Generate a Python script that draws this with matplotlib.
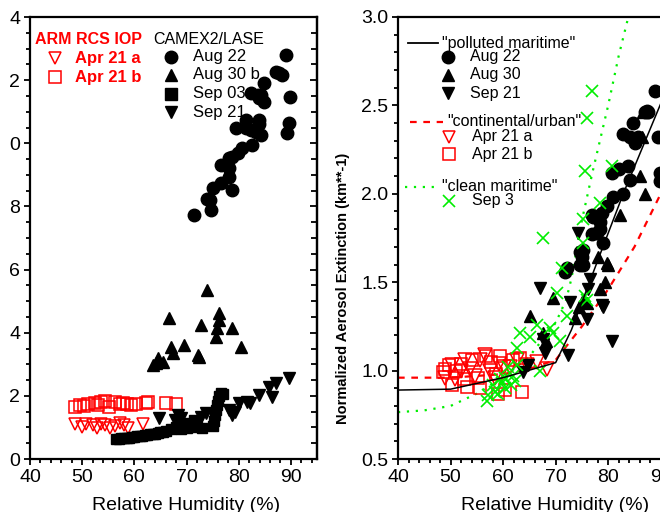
import numpy as np
import matplotlib
matplotlib.use("Agg")
import matplotlib.pyplot as plt
from matplotlib.ticker import MultipleLocator, FixedLocator, FixedFormatter

plt.rcParams['font.family'] = ['Liberation Sans', 'DejaVu Sans']

# ================= left panel: CAMEX2/LASE + ARM RCS IOP =================
aug22_rh = [71.5, 74.4, 74.7, 74.0, 75.0, 76.6, 76.6, 78.2, 78.8, 78.2, 78.2, 78.8,
            79.8, 80.7, 82.6, 79.4, 81.4, 81.4, 82.3, 83.3, 84.2, 83.9, 83.9, 82.3,
            83.6, 84.2, 83.9, 84.8, 84.8, 87.1, 87.7, 88.3, 89.0, 89.9, 89.6, 89.3]
aug22_ext = [7.73, 8.20, 7.89, 8.25, 8.57, 8.73, 9.31, 8.94, 8.52, 9.21, 9.52, 9.58,
             9.68, 9.84, 9.95, 10.47, 10.47, 10.74, 10.42, 10.37, 10.26, 10.74, 10.60, 11.58,
             11.53, 11.53, 11.43, 11.32, 11.90, 12.27, 12.22, 12.16, 12.80, 11.48, 10.63, 10.32]

aug30b_rh = [63.5, 64.2, 64.6, 65.4, 66.7, 67.0, 67.4, 69.6, 72.1, 72.4, 72.8, 74.0,
             75.6, 75.9, 76.3, 76.3, 78.8, 80.4]
aug30b_ext = [2.98, 3.05, 3.20, 3.08, 4.46, 3.56, 3.35, 3.61, 3.29, 3.22, 4.24, 5.35,
              3.87, 4.14, 4.40, 4.61, 4.14, 3.56]

sep03_rh = [56.5, 57.0, 57.5, 58.0, 58.5, 59.0, 59.5, 60.0, 60.5, 61.0, 61.5, 62.0,
            62.5, 63.0, 63.5, 64.0, 64.5, 65.0, 65.5, 66.0, 67.0, 68.0, 68.5, 69.0,
            69.5, 70.0, 70.5, 71.0, 71.5, 72.0, 73.0, 75.0, 75.2, 75.4, 75.6, 75.8,
            76.0, 76.3, 76.6, 77.0]
sep03_ext = [0.62, 0.63, 0.65, 0.66, 0.68, 0.68, 0.70, 0.71, 0.72, 0.73, 0.74, 0.75,
             0.76, 0.78, 0.80, 0.80, 0.82, 0.84, 0.86, 0.90, 0.95, 1.00, 1.10, 0.95,
             1.05, 0.98, 1.15, 1.05, 1.25, 1.00, 0.98, 1.05, 1.20, 1.40, 1.55, 1.70,
             1.85, 2.00, 2.10, 2.05]

sep21_rh = [64.8, 67.7, 68.3, 69.0, 72.8, 73.8, 78.2, 78.8, 79.3, 80.1, 81.6, 82.2,
            83.9, 85.8, 86.4, 87.1, 89.6]
sep21_ext = [1.30, 1.25, 1.39, 1.30, 1.33, 1.45, 1.55, 1.39, 1.50, 1.77, 1.80, 1.78,
             2.03, 2.28, 1.96, 2.40, 2.57]

apr21a_rh = [48.6, 49.9, 50.8, 52.0, 52.8, 53.6, 54.4, 55.3, 56.3, 57.2, 58.0, 58.7, 61.6]
apr21a_ext = [1.12, 1.00, 1.10, 1.08, 0.98, 1.10, 1.08, 0.98, 1.05, 1.14, 1.08, 0.98, 1.12]

apr21b_rh = [48.6, 49.5, 50.3, 51.2, 52.4, 53.1, 53.7, 54.3, 55.2, 56.2, 57.2, 57.8,
             58.5, 59.3, 60.4, 62.3, 62.6, 66.1, 68.0]
apr21b_ext = [1.65, 1.71, 1.68, 1.73, 1.77, 1.70, 1.81, 1.84, 1.65, 1.81, 1.74, 1.78,
              1.74, 1.72, 1.74, 1.77, 1.80, 1.77, 1.74]

# leading "1" of 10/12/14 is cropped off in the source image
left_yticks = [0, 2, 4, 6, 8, 10, 12, 14]
left_yticklabels = ['0', '2', '4', '6', '8', '0', '2', '4']

# ================= right panel: normalized extinction =================
r_aug22_rh = [71.8, 72.2, 74.7, 75.0, 74.7, 75.2, 77.0, 77.0, 78.5, 78.5, 79.1, 77.2,
              77.9, 78.9, 79.8, 80.9, 80.8, 82.9, 83.8, 84.2, 82.9, 84.2, 85.1, 84.8,
              87.0, 87.6, 88.95, 89.5, 89.9, 89.8, 75.2, 82.0, 85.7, 87.4]
r_aug22_ext = [1.56, 1.58, 1.67, 1.64, 1.60, 1.60, 1.88, 1.77, 1.84, 1.80, 1.72, 1.87,
               1.78, 1.89, 1.93, 1.98, 2.12, 2.00, 2.16, 2.08, 2.34, 2.32, 2.29, 2.40,
               2.46, 2.46, 2.58, 2.32, 2.12, 2.07, 1.68, 2.14, 2.32, 2.47]

r_aug30_rh = [65.1, 67.6, 68.2, 69.5, 73.7, 74.5, 75.2, 76.0, 78.1, 78.5, 79.4, 79.8,
              80.0, 82.3, 87.0, 86.1, 86.5, 86.7]
r_aug30_ext = [1.31, 1.21, 1.17, 1.41, 1.30, 1.36, 1.40, 1.38, 1.64, 1.46, 1.50, 1.61,
               1.60, 1.88, 2.00, 2.10, 2.32, 2.46]

r_sep21_rh = [63.8, 64.8, 67.0, 67.6, 68.0, 72.4, 72.8, 74.3, 76.0, 76.2, 76.6, 78.9,
              79.1, 80.8]
r_sep21_ext = [0.99, 1.03, 1.47, 1.18, 1.10, 1.09, 1.39, 1.78, 1.29, 1.46, 1.52, 1.37,
               1.36, 1.17]

r_apr21a_rh = [49.0, 50.2, 50.9, 52.0, 52.8, 53.7, 54.6, 55.6, 56.6, 57.5, 58.4, 59.2,
               60.1, 61.3, 62.7, 64.6, 66.5, 68.4]
r_apr21a_ext = [0.96, 1.03, 0.95, 1.00, 1.06, 1.01, 0.97, 1.06, 1.09, 1.00, 0.96, 1.04,
                1.02, 1.02, 1.06, 1.03, 1.05, 1.01]

r_apr21b_rh = [48.5, 49.0, 49.8, 50.3, 51.1, 51.9, 52.6, 53.1, 54.0, 55.3, 55.6, 56.7,
               57.7, 58.6, 59.0, 59.4, 60.3, 61.8, 63.2, 63.6]
r_apr21b_ext = [0.99, 1.01, 1.03, 0.92, 1.00, 1.04, 0.95, 0.91, 1.06, 0.96, 0.90, 1.08,
                1.05, 0.98, 0.87, 1.08, 0.89, 1.06, 1.07, 0.88]

r_sep3_rh = [57.0, 57.1, 58.1, 59.0, 59.4, 60.4, 60.4, 61.0, 61.5, 62.3, 62.7, 62.7,
             63.2, 65.1, 66.5, 67.0, 69.0, 69.5, 70.3, 70.9, 71.2, 72.2, 75.2, 75.6,
             76.0, 67.6, 75.2, 78.5, 80.8, 75.6, 76.0, 76.9, 58.5, 59.8, 61.8]
r_sep3_ext = [0.83, 0.86, 0.92, 0.87, 0.95, 0.96, 0.90, 1.02, 0.92, 0.94, 1.03, 1.13,
              1.21, 1.19, 1.26, 1.00, 1.24, 1.21, 1.44, 1.17, 1.58, 1.31, 1.72, 1.42,
              1.40, 1.75, 1.86, 1.95, 2.16, 2.13, 2.43, 2.58, 0.88, 0.93, 0.97]

# model curves
pm_rh = [40, 50, 60, 70, 73, 79, 83, 90, 95]
pm_ext = [0.89, 0.895, 0.96, 1.045, 1.23, 1.70, 2.01, 2.51, 2.87]
cu_rh = [40, 50, 60, 65, 70, 75, 80, 85, 90, 95]
cu_ext = [0.96, 0.96, 0.98, 1.01, 1.06, 1.25, 1.46, 1.70, 2.00, 2.35]
cm_rh = [40, 45, 50, 55, 60, 65, 70, 72, 73, 75, 77, 80, 82, 84]
cm_ext = [0.765, 0.775, 0.80, 0.87, 0.96, 1.08, 1.27, 1.40, 1.52, 1.85, 2.12, 2.50, 2.78, 3.02]

RED = '#ff0000'
GREEN = '#00ee00'
TICKFONT = 14

fig = plt.figure(figsize=(6.6, 5.12), dpi=100)
axL = fig.add_axes([30 / 660, 53 / 512, 287 / 660, 442 / 512])
axR = fig.add_axes([398 / 660, 53 / 512, 289 / 660, 442 / 512])


def style_axes(ax):
    for s in ax.spines.values():
        s.set_linewidth(1.6)
    ax.tick_params(which='both', direction='out', width=1.3, labelsize=TICKFONT, pad=3)
    ax.tick_params(which='major', length=4)
    ax.tick_params(which='minor', length=3)
    ax.xaxis.set_major_locator(MultipleLocator(10))
    ax.xaxis.set_minor_locator(MultipleLocator(2))
    ax.set_xlim(40, 95)
    ax.set_xlabel('Relative Humidity (%)', fontsize=14, labelpad=6)
    ax.xaxis.set_label_coords(0.545, -0.085)


# --- left panel ---
style_axes(axL)
axL.set_ylim(0, 14)
axL.yaxis.set_major_locator(FixedLocator(left_yticks))
axL.yaxis.set_major_formatter(FixedFormatter(left_yticklabels))
axL.yaxis.set_minor_locator(MultipleLocator(0.5))
sec = axL.secondary_yaxis('right')
sec.yaxis.set_major_locator(MultipleLocator(2))
sec.yaxis.set_minor_locator(MultipleLocator(0.5))
sec.tick_params(which='both', direction='in', width=1.3, labelright=False)
sec.tick_params(which='major', length=5)
sec.tick_params(which='minor', length=4)
sec.spines['right'].set_linewidth(1.6)

ms = 9
axL.plot(apr21b_rh, apr21b_ext, 's', ms=8.5, mfc='none', mec=RED, mew=1.1, ls='none')
axL.plot(apr21a_rh, apr21a_ext, 'v', ms=9, mfc='none', mec=RED, mew=1.1, ls='none')
axL.plot(sep03_rh, sep03_ext, 's', ms=7.5, color='black', ls='none')
axL.plot(sep21_rh, sep21_ext, 'v', ms=ms, color='black', ls='none')
axL.plot(aug30b_rh, aug30b_ext, '^', ms=ms, color='black', ls='none')
axL.plot(aug22_rh, aug22_ext, 'o', ms=ms, color='black', ls='none')

# left legend (hand placed, as in the original)
tA = axL.transAxes
axL.text(0.017, 0.948, 'ARM RCS IOP', transform=tA, color=RED, fontsize=11.5,
         fontweight='bold', va='center')
axL.plot([0.087], [0.907], 'v', transform=tA, ms=9, mfc='none', mec=RED, mew=1.1)
axL.text(0.157, 0.907, 'Apr 21 a', transform=tA, color=RED, fontsize=12,
         fontweight='bold', va='center')
axL.plot([0.087], [0.864], 's', transform=tA, ms=8, mfc='none', mec=RED, mew=1.1)
axL.text(0.157, 0.864, 'Apr 21 b', transform=tA, color=RED, fontsize=12,
         fontweight='bold', va='center')
axL.text(0.429, 0.948, 'CAMEX2/LASE', transform=tA, fontsize=11.5, va='center')
for yy, mk, lab in [(0.910, 'o', 'Aug 22'), (0.869, '^', 'Aug 30 b'),
                    (0.826, 's', 'Sep 03'), (0.785, 'v', 'Sep 21')]:
    axL.plot([0.491], [yy], mk, transform=tA, ms=ms, color='black')
    axL.text(0.568, yy, lab, transform=tA, fontsize=12, va='center')

# --- right panel ---
style_axes(axR)
axR.set_ylim(0.5, 3.0)
axR.yaxis.set_major_locator(MultipleLocator(0.5))
axR.yaxis.set_minor_locator(MultipleLocator(0.1))
axR.yaxis.set_major_formatter(plt.FormatStrFormatter('%.1f'))
axR.set_ylabel('Normalized Aerosol Extinction (km**-1)', fontsize=10.5, fontweight='bold',
               labelpad=4)
axR.yaxis.set_label_coords(-0.165, 0.385)

axR.plot(cm_rh, cm_ext, color=GREEN, ls=(0, (1, 3)), lw=1.6, zorder=1)
axR.plot(cu_rh, cu_ext, color=RED, ls=(0, (3, 3)), lw=1.6, zorder=1)
axR.plot(r_apr21b_rh, r_apr21b_ext, 's', ms=9, mfc='none', mec=RED, mew=1.1, zorder=2)
axR.plot(r_apr21a_rh, r_apr21a_ext, 'v', ms=9.5, mfc='none', mec=RED, mew=1.1, zorder=2)
axR.plot(r_sep21_rh, r_sep21_ext, 'v', ms=ms, color='black', zorder=2)
axR.plot(r_aug30_rh, r_aug30_ext, '^', ms=ms, color='black', zorder=2)
axR.plot(r_aug22_rh, r_aug22_ext, 'o', ms=ms, color='black', zorder=2)
axR.plot(r_sep3_rh, r_sep3_ext, 'x', ms=9, color=GREEN, mew=1.2, zorder=3)
axR.plot(pm_rh, pm_ext, color='black', lw=1.1, zorder=4)

tB = axR.transAxes
LEGFONT = 11.5
axR.plot([0.035, 0.138], [0.941, 0.941], transform=tB, color='black', lw=1.3)
axR.text(0.152, 0.941, '"polluted maritime"', transform=tB, fontsize=LEGFONT, va='center')
for yy, mk, lab in [(0.910, 'o', 'Aug 22'), (0.869, '^', 'Aug 30'), (0.828, 'v', 'Sep 21')]:
    axR.plot([0.173], [yy], mk, transform=tB, ms=ms, color='black')
    axR.text(0.249, yy, lab, transform=tB, fontsize=LEGFONT, va='center')
axR.plot([0.042, 0.156], [0.762, 0.762], transform=tB, color=RED, ls=(0, (3, 3)), lw=1.6)
axR.text(0.170, 0.764, '"continental/urban"', transform=tB, fontsize=LEGFONT, va='center')
axR.plot([0.176], [0.729], 'v', transform=tB, ms=9, mfc='none', mec=RED, mew=1.1)
axR.text(0.256, 0.729, 'Apr 21 a', transform=tB, fontsize=LEGFONT, va='center')
axR.plot([0.176], [0.690], 's', transform=tB, ms=8, mfc='none', mec=RED, mew=1.1)
axR.text(0.256, 0.690, 'Apr 21 b', transform=tB, fontsize=LEGFONT, va='center')
axR.plot([0.024, 0.13], [0.615, 0.615], transform=tB, color=GREEN, ls=(0, (1, 3)), lw=1.6)
axR.text(0.152, 0.617, '"clean maritime"', transform=tB, fontsize=LEGFONT, va='center')
axR.plot([0.176], [0.584], 'x', transform=tB, ms=9, color=GREEN, mew=1.2)
axR.text(0.256, 0.584, 'Sep 3', transform=tB, fontsize=LEGFONT, va='center')

fig.savefig('out.png', dpi=100)
